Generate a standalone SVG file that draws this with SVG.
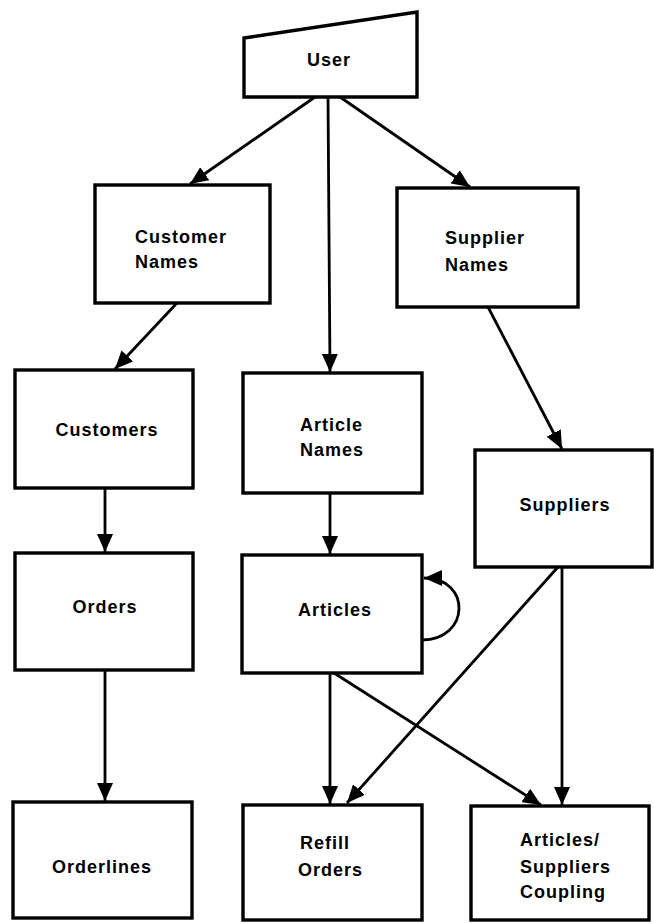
<svg xmlns="http://www.w3.org/2000/svg" width="654" height="923" viewBox="0 0 654 923">
  <style>
    .box { fill: #ffffff; stroke: #000000; stroke-width: 3.4; stroke-linejoin: miter; }
    .lbl { font-family: "Liberation Sans", Arial, sans-serif; font-weight: bold; font-size: 18px; letter-spacing: 1px; fill: #000000; }
    .mid { text-anchor: middle; }
    .edge { fill: none; stroke: #000000; stroke-width: 2.8; }
  </style>
  <defs>
    <marker id="head" viewBox="0 0 18 16" refX="18" refY="8" markerWidth="18" markerHeight="16" markerUnits="userSpaceOnUse" orient="auto">
      <path d="M0,0 L18,8 L0,16 Z" fill="#000000"/>
    </marker>
  </defs>
  <rect x="0" y="0" width="654" height="923" fill="#ffffff"/>

  <!-- connectors -->
  <g id="edges">
    <line class="edge" x1="315" y1="97" x2="190" y2="184" marker-end="url(#head)"/>
    <line class="edge" x1="328" y1="97" x2="330" y2="372" marker-end="url(#head)"/>
    <line class="edge" x1="340" y1="97" x2="470" y2="187" marker-end="url(#head)"/>
    <line class="edge" x1="177" y1="303" x2="115" y2="369" marker-end="url(#head)"/>
    <line class="edge" x1="488" y1="307" x2="562" y2="449" marker-end="url(#head)"/>
    <line class="edge" x1="105" y1="488" x2="105" y2="552" marker-end="url(#head)"/>
    <line class="edge" x1="330" y1="493" x2="330" y2="554" marker-end="url(#head)"/>
    <line class="edge" x1="105" y1="670" x2="105" y2="801" marker-end="url(#head)"/>
    <line class="edge" x1="330" y1="673" x2="330" y2="804" marker-end="url(#head)"/>
    <line class="edge" x1="334" y1="673" x2="541" y2="805" marker-end="url(#head)"/>
    <line class="edge" x1="558" y1="567" x2="347" y2="803" marker-end="url(#head)"/>
    <line class="edge" x1="562" y1="567" x2="562" y2="805" marker-end="url(#head)"/>
    <path class="edge" d="M422,640 C470,640 472,578 424,578" marker-end="url(#head)"/>
  </g>

  <g id="user">
    <polygon class="box" points="244,38 417,12 417,97 244,97"/>
    <text class="lbl mid" x="329" y="66">User</text>
  </g>

  <g id="customer-names">
    <rect class="box" x="95" y="185" width="175" height="118"/>
    <text class="lbl" x="135" y="243">Customer</text>
    <text class="lbl" x="135" y="268">Names</text>
  </g>

  <g id="supplier-names">
    <rect class="box" x="397" y="188" width="181" height="119"/>
    <text class="lbl" x="445" y="244">Supplier</text>
    <text class="lbl" x="445" y="271">Names</text>
  </g>

  <g id="customers">
    <rect class="box" x="15" y="370" width="178" height="118"/>
    <text class="lbl mid" x="107" y="436">Customers</text>
  </g>

  <g id="article-names">
    <rect class="box" x="243" y="373" width="179" height="120"/>
    <text class="lbl" x="300" y="431">Article</text>
    <text class="lbl" x="300" y="456">Names</text>
  </g>

  <g id="suppliers">
    <rect class="box" x="475" y="450" width="177" height="117"/>
    <text class="lbl mid" x="565" y="511">Suppliers</text>
  </g>

  <g id="orders">
    <rect class="box" x="15" y="553" width="178" height="117"/>
    <text class="lbl mid" x="105" y="613">Orders</text>
  </g>

  <g id="articles">
    <rect class="box" x="242" y="555" width="180" height="118"/>
    <text class="lbl mid" x="335" y="616">Articles</text>
  </g>

  <g id="orderlines">
    <rect class="box" x="13" y="802" width="179" height="116"/>
    <text class="lbl mid" x="102" y="873">Orderlines</text>
  </g>

  <g id="refill-orders">
    <rect class="box" x="243" y="805" width="179" height="115"/>
    <text class="lbl" x="300" y="849">Refill</text>
    <text class="lbl" x="298" y="876">Orders</text>
  </g>

  <g id="articles-suppliers-coupling">
    <rect class="box" x="471" y="806" width="178" height="114"/>
    <text class="lbl" x="520" y="846">Articles/</text>
    <text class="lbl" x="520" y="873">Suppliers</text>
    <text class="lbl" x="520" y="898">Coupling</text>
  </g>
</svg>
